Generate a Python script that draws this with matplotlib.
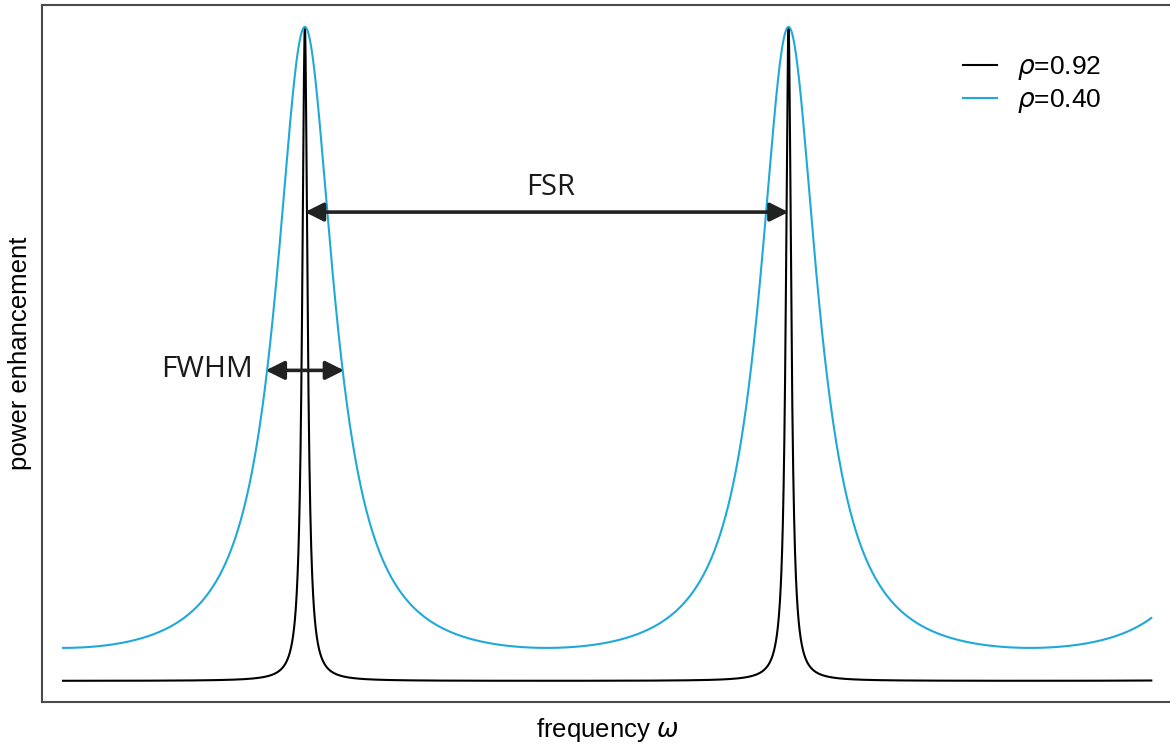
import numpy as np
import matplotlib
matplotlib.use("Agg")
import matplotlib.pyplot as plt

# --- data / parameters ---
rho_values = [0.92, 0.40]                 # power reflectivities (legend)
series_labels = [r"$\rho$=0.92", r"$\rho$=0.40"]
series_colors = ["#000000", "#1fa9da"]
freq_start, freq_end = 0.0, 2.25          # frequency in units of FSR
resonances = [0.5, 1.5]                   # resonance positions (FSR units)
fwhm_y = 0.475                            # height of FWHM arrow
fsr_y = 0.717                             # height of FSR arrow
fwhm_half = 0.081                         # half-width marked by FWHM arrow

omega = np.linspace(freq_start, freq_end, 6000)

W, H = 1170, 745
fig = plt.figure(figsize=(W/100, H/100), dpi=100)
ax = fig.add_axes([42/W, 43/H, 1.002 - 42/W, (H-5-43)/H])

for rho, lab, col in zip(rho_values, series_labels, series_colors):
    r = np.sqrt(rho)
    phi = 2*np.pi*(omega - resonances[0])
    p = (1 - r)**2 / np.abs(1 - r*np.exp(1j*phi))**2
    ax.plot(omega, p, color=col, lw=1.5, label=lab)

ax.set_xlim(freq_start - 0.0435, freq_end + 0.0435)
ax.set_ylim(-0.032, 1.0336)
ax.set_xticks([])
ax.set_yticks([])
for s in ax.spines.values():
    s.set_color("#4a4a4a")
    s.set_linewidth(1.5)

arrow_kw = dict(arrowstyle="<|-|>", color="#222222", lw=2.6,
                mutation_scale=28, shrinkA=0, shrinkB=0)
ax.annotate("", xy=(resonances[0], fsr_y), xytext=(resonances[1], fsr_y),
            arrowprops=arrow_kw)
ax.annotate("", xy=(resonances[0] - fwhm_half, fwhm_y),
            xytext=(resonances[0] + fwhm_half, fwhm_y), arrowprops=arrow_kw)

ax.text(1.009, 0.755, "FSR", fontsize=21, family="Open Sans",
        ha="center", va="center", color="#1a1a1a")
ax.text(0.297, 0.476, "FWHM", fontsize=21.5, family="Open Sans",
        ha="center", va="center", color="#1a1a1a")

ax.set_xlabel(r"frequency $\omega$", fontsize=18.5, family="Liberation Sans",
              labelpad=10)
ax.set_ylabel("power enhancement", fontsize=18.5, family="Liberation Sans",
              labelpad=7)

leg = ax.legend(loc="upper left", bbox_to_anchor=(939/W, 1 - 30/H),
                bbox_transform=fig.transFigure, frameon=False,
                handlelength=1.3, handletextpad=0.75,
                labelspacing=0.2, borderpad=0.4,
                prop={"family": "Liberation Sans", "size": 19})

fig.savefig("out.png", dpi=100)
